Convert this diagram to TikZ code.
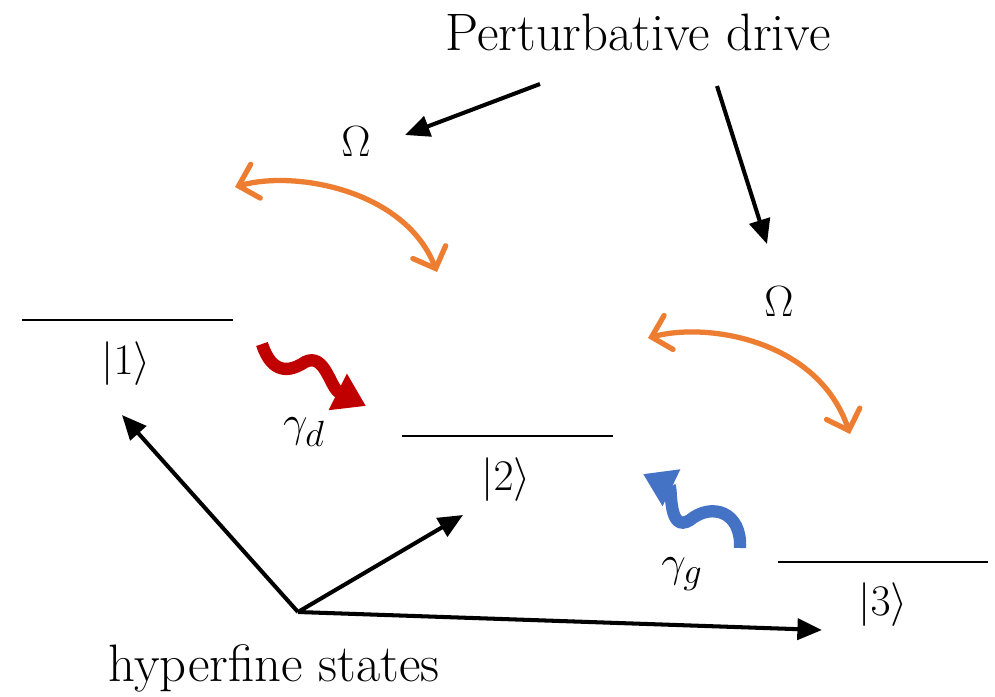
\documentclass[tikz,border=0pt]{standalone}
\usepackage{fontspec}
\usetikzlibrary{arrows.meta}
\definecolor{orng}{HTML}{ED7D31}
\definecolor{dred}{HTML}{C00000}
\definecolor{blu}{HTML}{4472C4}
\begin{document}
\begin{tikzpicture}[x=0.02cm,y=-0.02cm,
  lbl/.style={inner sep=0pt, font=\fontsize{30}{33}\selectfont},
  blackarr/.style={line width=2.3pt, -{Triangle[length=14pt,width=12pt]}},
  orarr/.style={orng, line width=3pt, line cap=round, {Straight Barb[length=10pt,width=20pt,line cap=round]}-{Straight Barb[length=10pt,width=20pt,line cap=round]}},
  level/.style={line width=0.6pt},
  wavy/.style={line width=7pt, -{Triangle[length=18pt,width=22pt]}}]
\useasboundingbox (0,0) rectangle (995,697);
% title
\node[lbl] (pd) at (638,32) {Perturbative drive};
\coordinate (d1) at (540,84);
\coordinate (d2) at (717,86);
\node[lbl] (om1) at (356,142) {$\Omega$};
\node[lbl] (om2) at (779,302) {$\Omega$};
\coordinate (o1) at (405,135);
\coordinate (o2) at (767,244);
\draw[blackarr] (d1) -- (o1);
\draw[blackarr] (d2) -- (o2);
% orange arcs
\coordinate (a1s) at (235,187);
\coordinate (a1e) at (437,272);
\coordinate (a2s) at (648,338);
\coordinate (a2e) at (850,434);
\draw[orarr] (a1s) .. controls (295,170) and (405,190) .. (a1e);
\draw[orarr] (a2s) .. controls (708,322) and (818,340) .. (a2e);
% levels
\coordinate (l1a) at (22,320); \coordinate (l1b) at (233,320);
\coordinate (l2a) at (402,436); \coordinate (l2b) at (613,436);
\coordinate (l3a) at (778,562); \coordinate (l3b) at (988,562);
\draw[level] (l1a) -- (l1b);
\draw[level] (l2a) -- (l2b);
\draw[level] (l3a) -- (l3b);
\node[lbl] (k1) at (126,364) {$|1\rangle$};
\node[lbl] (k2) at (506,480) {$|2\rangle$};
\node[lbl] (k3) at (883,605) {$|3\rangle$};
% wavy arrows
\coordinate (rs) at (262,344);
\coordinate (rm) at (305,362);
\coordinate (re) at (366,406);
\draw[wavy, dred] (rs) .. controls (272,375) and (290,372) .. (rm) .. controls (325,352) and (330,388) .. (re);
\node[lbl] (gd) at (304,432) {$\gamma_d$};
\coordinate (bs) at (740,548);
\coordinate (bm) at (690,520);
\coordinate (be) at (643,474);
\draw[wavy, blu] (bs) .. controls (742,512) and (712,502) .. (bm) .. controls (668,534) and (672,488) .. (be);
\node[lbl] (gg) at (682,574) {$\gamma_g$};
% hyperfine axes
\coordinate (org) at (298,612);
\coordinate (h1) at (122,415);
\coordinate (h2) at (463,515);
\coordinate (h3) at (822,630);
\draw[blackarr] (org) -- (h1);
\draw[blackarr] (org) -- (h2);
\draw[blackarr] (org) -- (h3);
\node[lbl] (hs) at (274,668) {hyperfine states};
\end{tikzpicture}
\end{document}
